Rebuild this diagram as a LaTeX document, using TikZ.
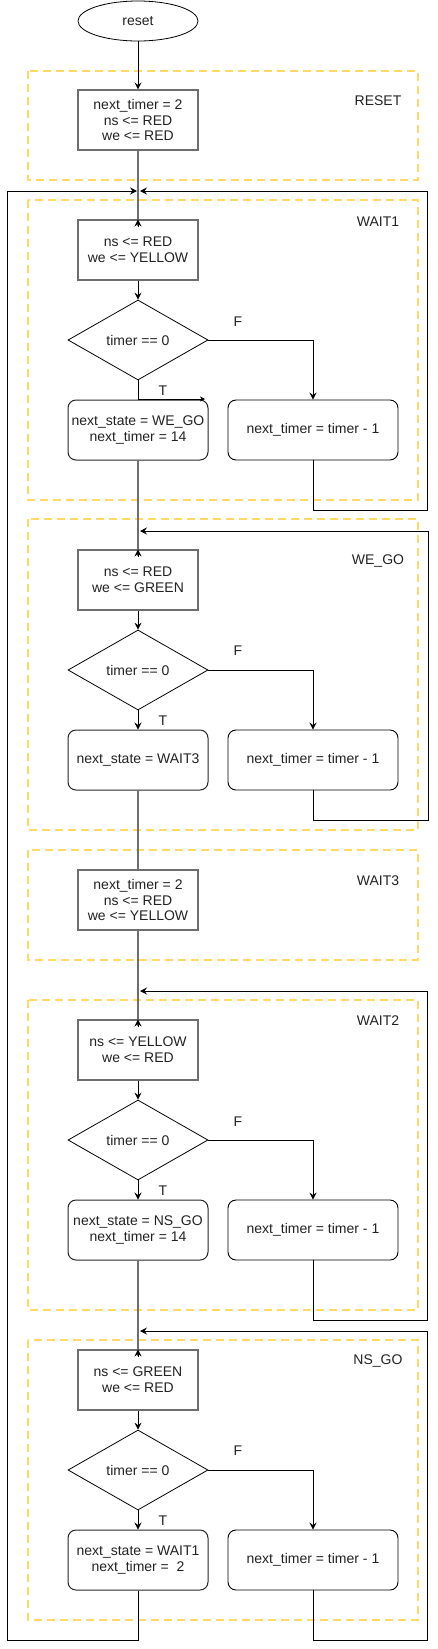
\documentclass[tikz,border=0pt]{standalone}
\usepackage{fontspec}
\setmainfont{Liberation Sans}
\usetikzlibrary{shapes.geometric,arrows.meta}
\definecolor{dashyel}{HTML}{FFD966}
\definecolor{boxgray}{HTML}{6E6E6E}
\definecolor{txt}{HTML}{222222}
\tikzset{
  every node/.style={font=\fontsize{14}{15.7}\selectfont, text=txt, inner sep=0pt, align=center},
  rectbox/.style={draw=boxgray, line width=1.1pt, minimum width=120pt, minimum height=60pt},
  tbox/.style={draw=black!85, line width=1pt, rounded corners=8pt, minimum width=140pt, minimum height=60pt},
  fbox/.style={draw=black, line width=0.9pt, rounded corners=8pt, minimum width=170pt, minimum height=60pt},
  dia/.style={draw=black, line width=0.8pt, diamond, aspect=1.75, minimum width=140pt, minimum height=80pt},
  term/.style={draw=black, line width=0.8pt, ellipse, minimum width=120pt, minimum height=40pt},
  grp/.style={draw=dashyel, line width=2.3pt, dash pattern=on 8pt off 5pt},
  lbl/.style={anchor=center},
  arr/.style={draw=black, line width=0.9pt, -{Stealth[length=7pt,width=7pt,inset=2.5pt]}},
  line/.style={draw=black, line width=0.9pt},
  grayline/.style={draw=boxgray, line width=1.2pt},
}
\begin{document}
\begin{tikzpicture}[x=1pt,y=-1pt]
\useasboundingbox (0,0) rectangle (437,1649);

% group containers
\draw[grp] (28,71) rectangle (418,180);
\draw[grp] (28,200) rectangle (418,500);
\draw[grp] (28,519) rectangle (418,830);
\draw[grp] (28,850) rectangle (418,960);
\draw[grp] (28,1000) rectangle (418,1310);
\draw[grp] (28,1340) rectangle (418,1620);

% group labels
\node[lbl] (lRESET) at (378,101) {RESET};
\node[lbl] (lWAIT1) at (378,222) {WAIT1};
\node[lbl] (lWEGO) at (378,561) {WE\_GO};
\node[lbl] (lWAIT3) at (378,881) {WAIT3};
\node[lbl] (lWAIT2) at (378,1021) {WAIT2};
\node[lbl] (lNSGO) at (378,1361) {NS\_GO};

% reset
\node[term] (reset) at (138,21) {reset};
\node[rectbox] (rst) at (138,120) {next\_timer = 2\\ns <= RED\\we <= RED};

% WAIT1
\node[rectbox] (w1box) at (138,250) {ns <= RED\\we <= YELLOW};
\node[dia] (w1d) at (138,340) {timer == 0};
\node[tbox] (w1T) at (138,430) {next\_state = WE\_GO\\next\_timer = 14};
\node[fbox] (w1F) at (313,430) {next\_timer = timer - 1};

% WE_GO
\node[rectbox] (wgbox) at (138,580) {ns <= RED\\we <= GREEN};
\node[dia] (wgd) at (138,670) {timer == 0};
\node[tbox] (wgT) at (138,760) {next\_state = WAIT3};
\node[fbox] (wgF) at (313,760) {next\_timer = timer - 1};

% WAIT3
\node[rectbox] (w3box) at (138,900) {next\_timer = 2\\ns <= RED\\we <= YELLOW};

% WAIT2
\node[rectbox] (w2box) at (138,1050) {ns <= YELLOW\\we <= RED};
\node[dia] (w2d) at (138,1140) {timer == 0};
\node[tbox] (w2T) at (138,1230) {next\_state = NS\_GO\\next\_timer = 14};
\node[fbox] (w2F) at (313,1230) {next\_timer = timer - 1};

% NS_GO
\node[rectbox] (nsbox) at (138,1380) {ns <= GREEN\\we <= RED};
\node[dia] (nsd) at (138,1470) {timer == 0};
\node[tbox] (nsT) at (138,1560) {next\_state = WAIT1\\next\_timer =\ \ 2};
\node[fbox] (nsF) at (313,1560) {next\_timer = timer - 1};

% junction coordinates
\coordinate (jA) at (138,191);
\coordinate (jB) at (138,531);
\coordinate (jC) at (138,991);
\coordinate (jD) at (138,1331);
\coordinate (tW1) at (205,399);

% main vertical flow
\draw[arr] (reset) -- (rst);
\draw[grayline] (rst.south) -- ([yshift=-7pt]w1box.north);
\draw[arr] ([yshift=-8pt]w1box.north) -- (w1box.north);
\draw[arr] (w1box) -- (w1d);
\draw[grayline] (w1T.south) -- ([yshift=-7pt]wgbox.north);
\draw[arr] ([yshift=-8pt]wgbox.north) -- (wgbox.north);
\draw[arr] (wgbox) -- (wgd);
\draw[arr] (wgd) -- (wgT);
\draw[grayline] (wgT.south) -- (w3box.north);
\draw[grayline] (w3box.south) -- ([yshift=-7pt]w2box.north);
\draw[arr] ([yshift=-8pt]w2box.north) -- (w2box.north);
\draw[arr] (w2box) -- (w2d);
\draw[arr] (w2d) -- (w2T);
\draw[grayline] (w2T.south) -- ([yshift=-7pt]nsbox.north);
\draw[arr] ([yshift=-8pt]nsbox.north) -- (nsbox.north);
\draw[arr] (nsbox) -- (nsd);
\draw[arr] (nsd) -- (nsT);

% WAIT1 true branch (odd routed edge)
\draw[line, -{Stealth[length=5pt,width=5pt,inset=1.5pt]}] (w1d.south) |- (tW1);

% false branches
\draw[arr] (w1d.east) -| (w1F.north);
\draw[arr] (wgd.east) -| (wgF.north);
\draw[arr] (w2d.east) -| (w2F.north);
\draw[arr] (nsd.east) -| (nsF.north);

% F / T labels
\node (f1) at (238,322) {F};
\node (t1) at (163,391) {T};
\node (f2) at (238,651) {F};
\node (t2) at (163,721) {T};
\node (f3) at (238,1122) {F};
\node (t3) at (163,1191) {T};
\node (f4) at (238,1451) {F};
\node (t4) at (163,1521) {T};

% loop-back edges
\draw[arr] (w1F.south) -- (313,510) -- (427,510) -- (427,191) -- ([xshift=2pt]jA);
\draw[arr] (wgF.south) -- (313,820) -- (428,820) -- (428,531) -- ([xshift=2pt]jB);
\draw[arr] (w2F.south) -- (313,1320) -- (427,1320) -- (427,991) -- ([xshift=2pt]jC);
\draw[arr] (nsF.south) -- (313,1640) -- (427,1640) -- (427,1331) -- ([xshift=2pt]jD);
\draw[arr] (nsT.south) -- (138,1640) -- (7,1640) -- (7,191) -- ([xshift=-1pt]jA);
\end{tikzpicture}
\end{document}
